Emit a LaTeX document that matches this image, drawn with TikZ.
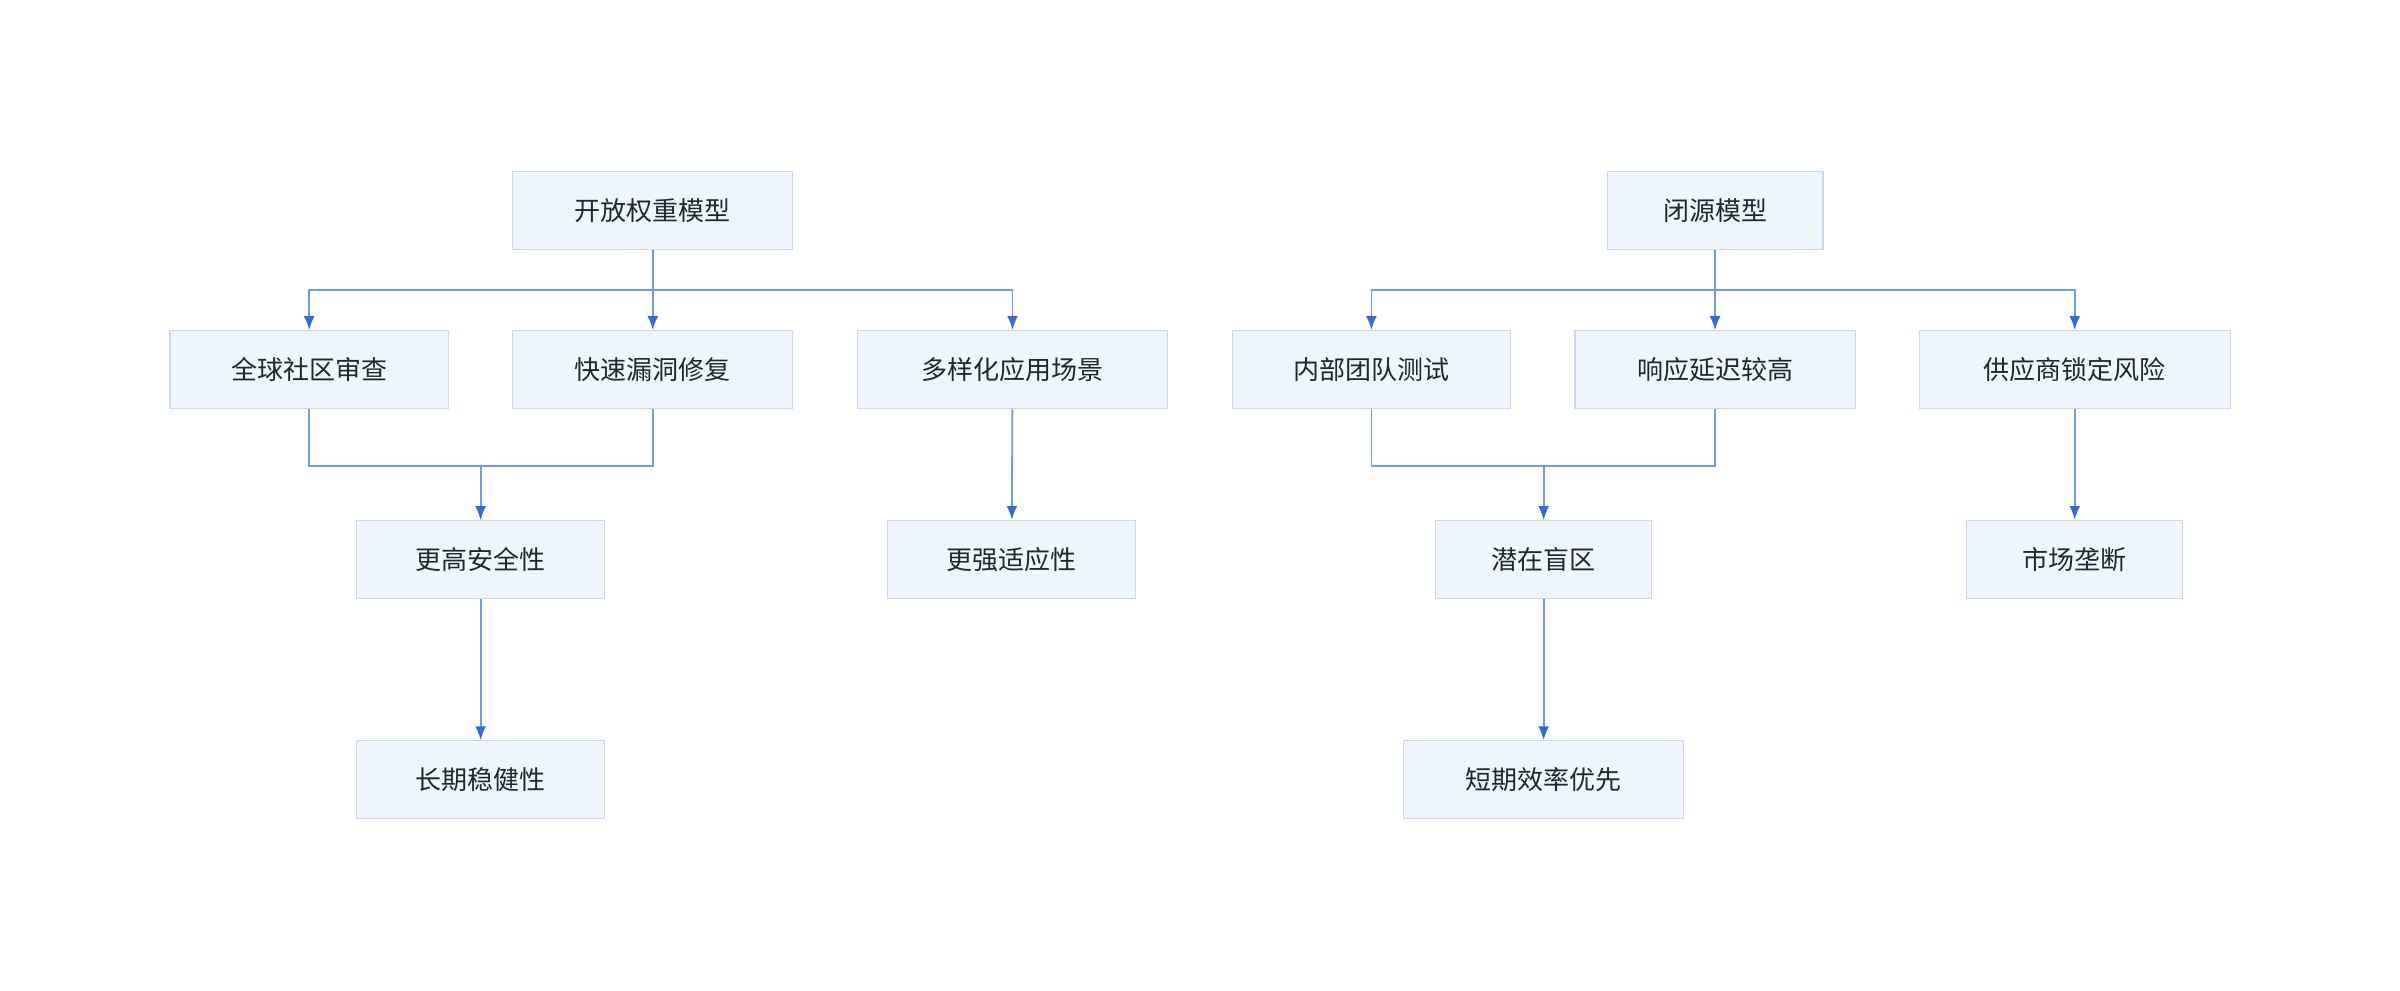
\documentclass[tikz,border=0pt]{standalone}
\usepackage{fontspec}
\setmainfont{Noto Sans CJK SC}
\usetikzlibrary{arrows.meta}
\begin{document}
\begin{tikzpicture}[x=1bp,y=-1bp]
  \definecolor{kFill}{HTML}{EFF4FD}
  \definecolor{kBorder}{HTML}{C9D8F2}
  \definecolor{kLine}{HTML}{6F9CEA}
  \definecolor{kTip}{HTML}{2F6BDB}
  \tikzset{box/.style={draw=kBorder,fill=kFill,line width=0.8bp,minimum height=51bp,
                       inner sep=0pt,font=\fontsize{17bp}{20bp}\selectfont,text=black!85},
           edge/.style={draw=kLine,line width=1.2bp,
                        -{Latex[length=9bp,width=7bp,color=kTip]}}}
  \useasboundingbox (0,0) rectangle (1568,647);

  \node[box,minimum width=183bp] (open)   at (426.5,137.5) {开放权重模型};
  \node[box,minimum width=182bp] (review) at (202,241.5)   {全球社区审查};
  \node[box,minimum width=183bp] (patch)  at (426.5,241.5) {快速漏洞修复};
  \node[box,minimum width=203bp] (usage)  at (661.5,241.5) {多样化应用场景};
  \node[box,minimum width=162bp] (safe)   at (314,365.5)   {更高安全性};
  \node[box,minimum width=162bp] (adapt)  at (661,365.5)   {更强适应性};
  \node[box,minimum width=162bp] (robust) at (314,509.5)   {长期稳健性};

  \node[box,minimum width=141bp] (closed) at (1120.5,137.5) {闭源模型};
  \node[box,minimum width=182bp] (inner)  at (896,241.5)    {内部团队测试};
  \node[box,minimum width=183bp] (slow)   at (1120.5,241.5) {响应延迟较高};
  \node[box,minimum width=203bp] (lock)   at (1355.5,241.5) {供应商锁定风险};
  \node[box,minimum width=141bp] (blind)  at (1008.5,365.5) {潜在盲区};
  \node[box,minimum width=141bp] (monop)  at (1355.5,365.5) {市场垄断};
  \node[box,minimum width=183bp] (short)  at (1008.5,509.5) {短期效率优先};

  % splits
  \foreach \a/\b in {open/review,open/patch,open/usage,closed/inner,closed/slow,closed/lock}
    \draw[edge] (\a.south) -- ++(0,26) -| (\b.north);
  % merges
  \foreach \a/\b in {review/safe,patch/safe,inner/blind,slow/blind}
    \draw[edge] (\a.south) -- ++(0,37) -| (\b.north);
  % straight
  \foreach \a/\b in {usage/adapt,safe/robust,lock/monop,blind/short}
    \draw[edge] (\a) -- (\b);
\end{tikzpicture}
\end{document}
